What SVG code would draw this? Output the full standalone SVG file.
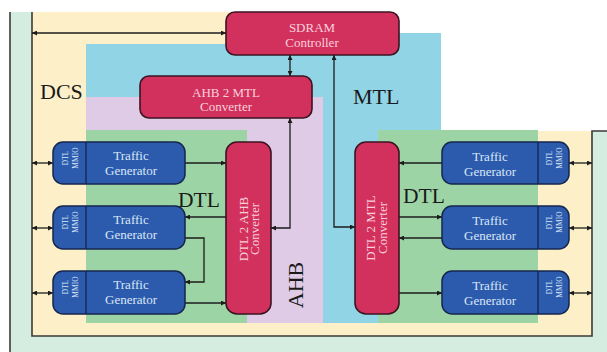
<svg xmlns="http://www.w3.org/2000/svg" width="607" height="352" viewBox="0 0 607 352">
  <defs>
    <marker id="arrow" viewBox="0 0 10 10" refX="10" refY="5" markerWidth="6" markerHeight="5" markerUnits="userSpaceOnUse" orient="auto-start-reverse">
      <path d="M0,0 L10,5 L0,10 Z" fill="#1c1c1c"/>
    </marker>
    <style>
      .wire { fill: none; stroke: #1c1c1c; stroke-width: 1.3; }
      .both { marker-start: url(#arrow); marker-end: url(#arrow); }
      .one { marker-end: url(#arrow); }
      .edge { fill: none; stroke: #3a3a38; stroke-width: 1.6; }
      .conv { fill: #d3315d; stroke: #3b1422; stroke-width: 1.6; }
      .convtxt { font-family: "Liberation Serif", "DejaVu Serif", serif; font-size: 13px; fill: #f7d0dc; text-anchor: middle; }
      .tg { fill: #2c5bae; stroke: #15264d; stroke-width: 1.5; }
      .tgline { stroke: #15264d; stroke-width: 1.3; }
      .tgtxt { font-family: "Liberation Serif", "DejaVu Serif", serif; font-size: 13px; fill: #dbe6f5; text-anchor: middle; }
      .mmio { font-family: "Liberation Serif", "DejaVu Serif", serif; font-size: 7.5px; fill: #dbe6f5; text-anchor: middle; }
      .area { font-family: "Liberation Serif", "DejaVu Serif", serif; fill: #1a1a1a; }
    </style>
  </defs>

  <rect x="0" y="0" width="607" height="352" fill="#ffffff"/>

  <!-- backdrop regions -->
  <g id="regions">
    <polygon points="10,12 32,12 32,336 592,336 592,131 607,131 607,352 10,352" fill="#d5ede0"/>
    <polygon points="32,12 395,12 395,131 592,131 592,336 32,336" fill="#fdf0c9"/>
    <polygon points="86,44 399,44 399,33 441,33 441,323 86,323" fill="#90d4e5"/>
    <rect x="86" y="97" width="237" height="226" fill="#dfcbe6"/>
    <rect x="86" y="130" width="161" height="193" fill="#9dd4a6"/>
    <rect x="378" y="130" width="160" height="193" fill="#9dd4a6"/>
    <polyline class="edge" points="32,12 32,336 592,336 592,131 607,131"/>
    <line class="edge" x1="10" y1="12" x2="10" y2="352"/>
  </g>

  <!-- region labels -->
  <g id="labels">
    <text class="area" x="40" y="99" font-size="22">DCS</text>
    <text class="area" x="353" y="104" font-size="22">MTL</text>
    <text class="area" x="178" y="207" font-size="21.5">DTL</text>
    <text class="area" x="403" y="203" font-size="21.5">DTL</text>
    <text class="area" x="303" y="285" font-size="22" text-anchor="middle" transform="rotate(-90 303 285)">AHB</text>
  </g>

  <!-- connectors -->
  <g id="connectors">
    <path class="wire both" d="M32,33 H226"/>
    <path class="wire both" d="M290,55 V76"/>
    <path class="wire both" d="M334,55 V227 H355"/>
    <path class="wire both" d="M290,118 V228 H271"/>
    <path class="wire both" d="M32,163 H53"/>
    <path class="wire both" d="M32,228 H53"/>
    <path class="wire both" d="M32,293 H53"/>
    <path class="wire both" d="M569,163 H592"/>
    <path class="wire both" d="M569,228 H592"/>
    <path class="wire both" d="M569,293 H592"/>
    <path class="wire one" d="M185,163 H226"/>
    <path class="wire one" d="M226,217 H185"/>
    <path class="wire one" d="M185,238 H204 V282 H185"/>
    <path class="wire one" d="M185,303 H226"/>
    <path class="wire one" d="M442,163 H399"/>
    <path class="wire one" d="M399,217 H442"/>
    <path class="wire one" d="M442,238 H399"/>
    <path class="wire one" d="M399,293 H442"/>
  </g>

  <!-- memory side -->
  <g id="sdram">
    <rect class="conv" x="226" y="12" width="173" height="43" rx="9"/>
    <text class="convtxt" x="312" y="32">SDRAM</text>
    <text class="convtxt" x="312" y="47">Controller</text>
  </g>
  <g id="ahb2mtl">
    <rect class="conv" x="140" y="76" width="172" height="42" rx="9"/>
    <text class="convtxt" x="226" y="97">AHB 2 MTL</text>
    <text class="convtxt" x="226" y="111">Converter</text>
  </g>

  <!-- protocol converters -->
  <g id="dtl2ahb">
    <rect class="conv" x="226" y="142" width="45" height="172" rx="11"/>
    <text class="convtxt" transform="rotate(-90 248 229)" x="248" y="229">DTL 2 AHB</text>
    <text class="convtxt" transform="rotate(-90 259 229)" x="259" y="229">Converter</text>
  </g>
  <g id="dtl2mtl">
    <rect class="conv" x="355" y="142" width="44" height="172" rx="11"/>
    <text class="convtxt" transform="rotate(-90 375 228)" x="375" y="228">DTL 2 MTL</text>
    <text class="convtxt" transform="rotate(-90 387 228)" x="387" y="228">Converter</text>
  </g>

  <!-- traffic generators, left column -->
  <g id="tg-left-1">
    <rect class="tg" x="53" y="142" width="132" height="42" rx="10"/>
    <line class="tgline" x1="86" y1="142" x2="86" y2="184"/>
    <text class="mmio" transform="rotate(-90 68 158)" x="68" y="158">DTL</text>
    <text class="mmio" transform="rotate(-90 78 158)" x="78" y="158">MMIO</text>
    <text class="tgtxt" x="131" y="160">Traffic</text>
    <text class="tgtxt" x="131" y="175">Generator</text>
  </g>
  <g id="tg-left-2">
    <rect class="tg" x="53" y="206" width="132" height="43" rx="10"/>
    <line class="tgline" x1="86" y1="206" x2="86" y2="249"/>
    <text class="mmio" transform="rotate(-90 68 222)" x="68" y="222">DTL</text>
    <text class="mmio" transform="rotate(-90 78 222)" x="78" y="222">MMIO</text>
    <text class="tgtxt" x="131" y="224">Traffic</text>
    <text class="tgtxt" x="131" y="239">Generator</text>
  </g>
  <g id="tg-left-3">
    <rect class="tg" x="53" y="271" width="132" height="43" rx="10"/>
    <line class="tgline" x1="86" y1="271" x2="86" y2="314"/>
    <text class="mmio" transform="rotate(-90 68 287)" x="68" y="287">DTL</text>
    <text class="mmio" transform="rotate(-90 78 287)" x="78" y="287">MMIO</text>
    <text class="tgtxt" x="131" y="289">Traffic</text>
    <text class="tgtxt" x="131" y="304">Generator</text>
  </g>

  <!-- traffic generators, right column -->
  <g id="tg-right-1">
    <rect class="tg" x="442" y="142" width="127" height="42" rx="10"/>
    <line class="tgline" x1="538" y1="142" x2="538" y2="184"/>
    <text class="mmio" transform="rotate(-90 552 158)" x="552" y="158">DTL</text>
    <text class="mmio" transform="rotate(-90 562 158)" x="562" y="158">MMIO</text>
    <text class="tgtxt" x="490" y="161">Traffic</text>
    <text class="tgtxt" x="490" y="176">Generator</text>
  </g>
  <g id="tg-right-2">
    <rect class="tg" x="442" y="206" width="127" height="43" rx="10"/>
    <line class="tgline" x1="538" y1="206" x2="538" y2="249"/>
    <text class="mmio" transform="rotate(-90 552 222)" x="552" y="222">DTL</text>
    <text class="mmio" transform="rotate(-90 562 222)" x="562" y="222">MMIO</text>
    <text class="tgtxt" x="490" y="225">Traffic</text>
    <text class="tgtxt" x="490" y="240">Generator</text>
  </g>
  <g id="tg-right-3">
    <rect class="tg" x="442" y="271" width="127" height="43" rx="10"/>
    <line class="tgline" x1="538" y1="271" x2="538" y2="314"/>
    <text class="mmio" transform="rotate(-90 552 287)" x="552" y="287">DTL</text>
    <text class="mmio" transform="rotate(-90 562 287)" x="562" y="287">MMIO</text>
    <text class="tgtxt" x="490" y="290">Traffic</text>
    <text class="tgtxt" x="490" y="305">Generator</text>
  </g>
</svg>
